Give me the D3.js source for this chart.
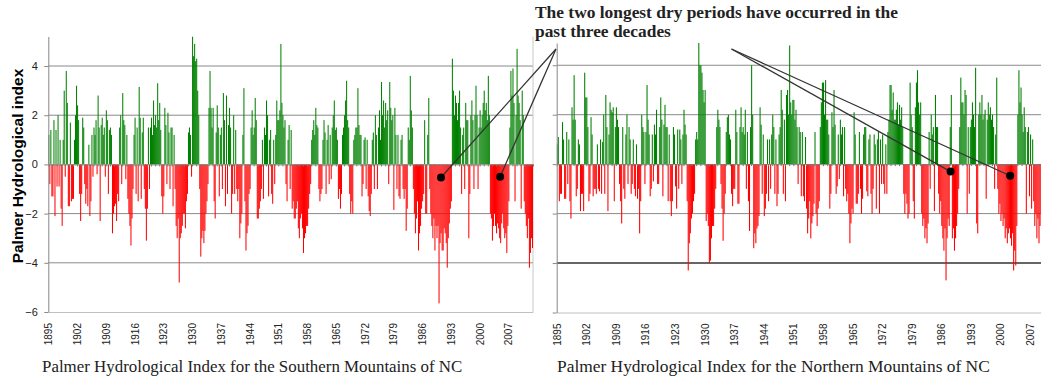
<!DOCTYPE html>
<html>
<head>
<meta charset="utf-8">
<script src="https://cdn.jsdelivr.net/npm/d3@7"></script>
<style>
  body { margin: 0; background: #fff; }
  svg { display: block; }
</style>
</head>
<body>
<svg id="chart" width="1041" height="381"></svg>
<script>
// PHDI readings, four per year starting 1895
const startYear = 1895;
const step = 0.25;

const southValues = [
  // 1895-1899
  1.2, -0.8, 1.4, -1.3,  -1.3, 1.8, -2.1, 1.4,  -0.9, 2.0, -0.9, 1.0,  -1.8, -2.5, 1.0, 3.0,  -0.5, 3.8, 2.5, -1.7,
  // 1900-1904
  -1.7, 1.7, -1.5, -1.4,  -1.4, 1.0, 2.0, 3.2,  2.4, 1.8, -1.2, -2.3,  -1.2, 1.9, 1.5, -0.8,  -1.6, -1.0, -1.7, 0.8,
  // 1905-1909
  -2.1, -1.5, 1.2, -0.5,  1.5, 1.2, 1.8, -0.4,  2.8, 1.5, -2.3, 1.6,  1.9, 1.2, 1.5, -0.5,  2.2, 1.8, -1.2, 1.4,
  // 1910-1914
  1.5, 1.2, -2.8, -2.0,  -1.7, -1.6, -2.3, -1.2,  -1.5, 1.5, 2.0, -0.8,  2.9, 1.8, 1.6, -0.6,  1.2, -1.4, -2.0, -2.5,
  // 1915-1919
  -3.3, -2.2, -1.0, 1.2,  1.9, -1.2, 1.5, -1.5,  3.15, 1.9, -1.4, 1.3,  1.9, -1.0, -1.8, -3.1,  -1.8, 1.5, -1.0, 1.5,
  // 1920-1924
  1.9, 1.2, 2.6, 1.6,  2.0, 1.5, 3.3, 1.8,  2.5, 1.4, -1.3, -2.0,  -1.3, 2.3, 1.6, -0.8,  2.1, 1.3, -1.0, 1.5,
  // 1925-1929
  1.5, -1.7, 1.2, -1.0,  -2.5, -3.0, -2.2, -4.8,  -3.0, -2.8, -2.5, -2.0,  -2.0, -2.6, -1.5, -1.2,  1.3, 1.5, 1.2, -0.5,
  // 1930-1934
  5.2, 4.4, 4.9, 4.2,  4.3, 3.0, 2.0, -1.0,  -3.75, -3.0, -2.7, -3.2,  -2.7, -2.0, -1.5, -0.8,  2.3, 3.8, 2.3, 1.5,
  // 1935-1939
  2.3, -1.5, -2.2, 1.3,  2.4, 1.5, -1.3, 1.2,  1.5, -1.0, 2.9, 1.8,  -1.7, 2.8, -1.2, 1.6,  2.3, 1.5, -2.0, -1.2,
  // 1940-1944
  2.0, -1.2, 1.4, -1.0,  -1.5, -1.0, -3.0, -2.4,  -2.0, 1.2, 3.1, -1.5,  -3.5, -2.8, -2.5, -1.2,  -1.0, 1.5, 2.2, 1.2,
  // 1945-1949
  1.5, 2.7, 1.8, -2.2,  -2.2, -1.8, -1.5, -1.0,  1.0, -1.4, 1.5, 1.2,  2.6, 2.0, -1.3, 1.0,  1.4, -1.2, -1.6, 1.0,
  // 1950-1954
  -0.8, 1.2, 2.6, 1.8,  1.8, 2.2, 4.9, 2.5,  2.0, 1.5, 1.8, -0.8,  -1.5, 1.0, 1.6, -1.0,  1.4, -1.8, -1.5, -2.2,
  // 1955-1959
  -2.2, -1.8, -1.5, -2.6,  -3.0, -2.2, -2.0, -2.6,  -3.6, -3.0, -2.8, -2.5,  -2.5, -1.8, -1.2, -0.8,  1.0, 1.4, 1.8, 1.2,
  // 1960-1964
  2.3, 1.6, 1.5, -1.0,  -1.5, -1.2, -1.0, 1.0,  1.8, 1.3, -1.2, 1.0,  1.6, -0.8, 1.2, -0.6,  1.5, 2.0, 2.6, 1.4,
  // 1965-1969
  1.5, 1.0, -1.4, -1.0,  -1.8, -1.2, 1.2, 1.5,  2.0, 2.6, 3.4, 1.8,  1.5, -1.2, -2.0, -1.5,  -2.0, 1.0, 1.2, 1.5,
  // 1970-1974
  1.5, 3.1, 1.6, 1.2,  1.2, -1.3, -0.8, 1.0,  1.1, -1.0, 1.0, -1.3,  -1.9, -2.1, -1.2, 1.0,  1.3, -1.0, 2.0, 1.2,
  // 1975-1979
  -1.0, 1.5, 2.2, 1.0,  3.35, 2.0, 2.6, 1.5,  2.5, 1.8, 2.2, -0.8,  3.35, 2.3, 1.8, 2.0,  -1.85, 2.3, 1.2, -1.0,
  // 1980-1984
  1.2, -1.3, -1.4, 1.0,  1.2, -1.0, -1.4, -1.0,  -2.7, -1.8, 1.5, 1.0,  3.6, 2.2, 1.5, -1.0,  -2.0, -2.8, -2.2, -1.5,
  // 1985-1989
  -3.5, -2.8, -2.5, -1.8,  -1.5, -1.2, 1.8, -2.0,  -2.0, 1.2, 2.7, -1.0,  -2.0, -2.5, -3.0, -2.2,  -3.5, -2.5, -3.0, -2.5,
  // 1990-1994
  -5.65, -3.2, -2.8, -3.5,  -3.5, -2.6, -2.8, -3.2,  -4.2, -3.0, -2.4, -1.8,  -1.5, 4.3, 3.0, 2.0,  2.8, 2.5, 1.8, 2.5,
  // 1995-1999
  3.0, 1.5, -1.2, 1.2,  1.5, -1.0, 2.5, 1.8,  1.8, -3.0, -1.2, 2.0,  2.6, 1.8, -1.0, 2.0,  3.2, 2.0, -1.0, 1.5,
  // 2000-2004
  2.2, 1.5, 2.0, 2.5,  3.0, 2.2, 2.5, 1.8,  3.6, 2.0, -2.0, -2.2,  -3.1, -2.5, -2.0, -2.5,  -2.8, -2.4, -2.6, -3.0,
  // 2005-2009
  -3.2, -2.4, -2.0, -2.6,  -3.0, -2.8, -3.6, -2.5,  -1.5, 1.5, 3.8, 2.8,  3.9, 2.5, -1.5, 2.0,  4.7, 2.8, 2.5, 1.8,
  // 2010-2012
  -1.8, 3.0, 2.0, -1.5,  -2.0, -2.5, -3.0, -2.2,  -4.2, -3.6, -3.0, -3.4
];

const northValues = [
  // 1895-1899
  0.8, 1.1, -1.5, -1.2,  -1.2, 1.7, 1.0, -1.4,  -1.4, 1.3, -0.8, 1.0,  -1.5, -2.2, 2.3, 1.8,  3.6, 1.8, -1.3, -1.0,
  // 1900-1904
  1.0, 0.8, -1.9, -1.2,  -1.2, -1.9, 3.7, 2.7,  2.7, 1.5, -1.5, -1.2,  1.9, 1.2, -1.3, -1.0,  -1.0, -1.2, 0.8, -1.0,
  // 1905-1909
  -1.1, 1.0, -1.2, 0.9,  2.0, -1.2, 2.8, 1.5,  -1.9, 1.2, 2.5, 2.2,  2.1, 2.3, -1.5, 1.5,  2.3, 1.8, 1.5, -0.8,
  // 1910-1914
  -1.5, -2.4, 1.5, -1.0,  -1.4, 1.2, 2.0, -0.8,  1.5, 1.0, -1.2, -0.8,  1.0, -1.0, -1.3, 0.8,  -1.4, -1.0, -2.8, -1.5,
  // 1915-1919
  2.0, 1.5, 1.3, -0.8,  1.3, 3.2, 1.8, 1.2,  -1.3, -1.0, 1.2, -0.7,  1.6, 1.2, 2.2, -0.8,  -0.8, 1.5, 2.7, 1.8,
  // 1920-1924
  -1.3, 1.6, 2.4, 1.5,  1.5, -1.5, 1.2, -1.5,  -2.1, -1.5, 1.5, 1.2,  -0.9, -1.8, 1.4, -1.0,  1.4, 1.0, -0.8, 1.2,
  // 1925-1929
  2.2, 1.6, 1.2, -1.5,  -4.3, -3.2, -2.8, -2.2,  -2.0, -1.5, -1.2, 1.0,  1.3, 1.0, 4.9, 4.0,  4.0, 3.7, 3.0, 2.5,
  // 1930-1934
  3.0, -2.3, -2.0, -2.5,  -4.0, -3.9, -3.0, -2.5,  -2.5, -1.8, -1.0, 1.5,  2.2, 1.8, 1.5, -0.8,  -1.8, -3.1, -2.0, -1.2,
  // 1935-1939
  1.3, 1.9, 2.0, 1.2,  1.0, -1.2, -1.7, -1.0,  -1.0, 2.2, 1.3, -1.6,  -1.6, 1.5, 2.3, 1.3,  1.5, 1.2, 2.2, -1.0,
  // 1940-1944
  1.3, -1.5, -2.7, 1.5,  4.0, 2.0, -3.4, -2.8,  -3.2, -2.6, -2.5, -2.1,  2.3, 1.6, -1.2, 1.2,  -2.1, -1.8, -1.2, 1.0,
  // 1945-1949
  -1.5, 1.0, -1.0, 1.2,  2.0, 1.5, -1.2, 1.0,  -1.7, -1.2, 1.2, 1.5,  3.0, 2.2, -1.2, 1.8,  -1.5, 2.8, 3.0, 2.0,
  // 1950-1954
  4.8, 2.5, 2.0, 2.6,  2.6, 1.8, 2.2, 1.5,  -0.8, 1.5, 1.3, -1.3,  1.3, -1.3, -1.5, 1.1,  -1.8, -2.8, -2.2, -1.5,
  // 1955-1959
  -3.0, -2.4, -2.1, -1.6,  1.3, -2.0, -2.5, -1.8,  -1.5, 1.5, 2.5, 3.3,  3.3, 2.0, 3.4, 1.8,  1.8, 1.2, -1.8, -1.2,
  // 1960-1964
  2.1, 1.5, 3.0, 1.6,  -1.2, -0.9, 1.2, -0.6,  1.8, 1.2, 1.5, -1.3,  1.5, -1.0, -1.5, -1.2,  -2.0, -3.2, -2.4, -1.8,
  // 1965-1969
  -2.0, 2.1, 1.2, -1.6,  -1.6, -1.2, 1.3, -1.0,  -2.0, -1.4, 1.2, 1.5,  1.5, -1.1, -1.3, 1.0,  1.2, -1.2, -2.0, -1.0,
  // 1970-1974
  1.2, 0.8, -1.8, 1.0,  1.3, -2.0, 1.0, -0.8,  1.2, -0.8, -1.2, 0.8,  -1.2, 1.3, 1.8, 3.2,  3.2, 2.2, 2.9, 1.8,
  // 1975-1979
  1.8, 2.2, 2.5, 1.6,  2.4, 1.8, 2.3, 1.5,  -1.2, -2.0, -1.2, -1.6,  -2.2, -2.0, 3.3, 2.0,  1.5, -1.5, -2.2, 2.3,
  // 1980-1984
  3.3, 3.8, 2.5, 2.0,  2.5, -2.0, -2.5, -2.2,  -3.0, -2.6, -3.2, -2.4,  1.3, -1.0, 2.0, 1.2,  1.5, -1.9, 2.8, 1.5,
  // 1985-1989
  1.5, -1.2, -2.0, -1.5,  -2.5, -3.0, -3.5, -2.6,  -4.7, -3.0, -2.2, -2.5,  1.5, 2.8, -3.0, -2.6,  -3.5, -3.0, -2.5, -2.0,
  // 1990-1994
  -1.0, 1.5, 3.5, 2.5,  2.5, 2.0, 3.0, 2.8,  -2.0, 1.5, -1.2, 1.5,  1.8, 2.5, 2.0, 1.5,  3.9, -2.4, -2.8, 2.0,
  // 1995-1999
  2.5, 2.0, 2.8, 1.8,  2.0, 2.2, -1.4, 1.8,  2.5, 2.0, 2.3, 1.8,  2.0, 1.5, -1.0, 1.2,  3.5, -1.0, -2.0, -1.6,
  // 2000-2004
  -2.3, -2.0, -2.5, -2.2,  -3.0, -2.6, -3.2, -2.8,  -2.6, -3.0, -3.3, -2.8,  -4.3, -3.5, -4.1, -2.5,  2.0, 3.8, 2.5, 3.1,
  // 2005-2009
  2.0, 1.3, 2.3, 1.5,  -2.0, 1.3, 1.5, -1.3,  1.2, -1.8, 1.0, -1.5,  -2.5, -2.0, -3.0, -2.2,  -3.2, -2.5, -2.0, -3.0
];

const tickYears = d3.range(1895, 2008, 7);
const yTicks = [-6, -4, -2, 0, 2, 4];
const gridValues = [-4, -2, 2, 4];

// dry period markers: [year, value]
const southDry = [[1990.6, -0.53], [2005.0, -0.5]];
const northDry = [[1988.2, -0.3], [2002.3, -0.47]];

const titleLines = ["The two longest dry periods have occurred in the", "past three decades"];
const yTitle = "Palmer Hydrological index";

const green = "#008000";
const red = "#ff0000";
const sans = "'Liberation Sans', Arial, sans-serif";
const serif = "'Liberation Serif', 'Times New Roman', serif";

const svg = d3.select("#chart");

const panels = [
  { id: "s", values: southValues, endYear: 2013, left: 48.3, right: 533, top: 36.5, yMax: 5.2,
    bottom: 312, yLabels: true, darkGrid: null, dry: southDry, from: [556, 49],
    caption: "Palmer Hydrological Index for the Southern Mountains of NC", capX: 42, capSize: 16.9 },
  { id: "n", values: northValues, endYear: 2010, left: 556.7, right: 1042.7, top: 43, yMax: 4.9,
    bottom: 312.5, yLabels: false, darkGrid: -4, dry: northDry, from: [731.5, 49],
    caption: "Palmer Hydrological Index for the Northern Mountains of NC", capX: 557, capSize: 17.4 }
];

panels.forEach(p => {
  const x = d3.scaleLinear().domain([startYear, p.endYear]).range([p.left, p.right]);
  const y = d3.scaleLinear().domain([-6, p.yMax]).range([p.bottom, p.top]);
  const g = svg.append("g");

  svg.append("clipPath").attr("id", "clip-" + p.id)
    .append("rect")
    .attr("x", p.left).attr("y", p.top)
    .attr("width", p.right - p.left).attr("height", p.bottom - p.top);

  // gridlines
  g.selectAll(".grid").data(gridValues).join("line")
    .attr("x1", p.left).attr("x2", p.right)
    .attr("y1", d => y(d)).attr("y2", d => y(d))
    .attr("stroke", d => d === p.darkGrid ? "#333" : "#8a8a8a")
    .attr("stroke-width", d => d === p.darkGrid ? 1.4 : 1);

  // right border of plot area
  g.append("line")
    .attr("x1", p.right).attr("x2", p.right)
    .attr("y1", p.top).attr("y2", p.bottom)
    .attr("stroke", "#c8c8c8");

  // bars
  const bw = x(startYear + step) - x(startYear);
  g.append("g").attr("clip-path", `url(#clip-${p.id})`)
    .selectAll("rect").data(p.values).join("rect")
    .attr("x", (d, i) => x(startYear + i * step))
    .attr("width", bw)
    .attr("y", d => y(Math.max(0, d)))
    .attr("height", d => Math.abs(y(d) - y(0)))
    .attr("fill", d => d >= 0 ? green : red);

  // zero axis with yearly ticks
  const zero = g.append("g")
    .attr("transform", `translate(0,${y(0)})`)
    .attr("color", "#777")
    .call(d3.axisBottom(x).tickValues(d3.range(1895, p.endYear + 1)).tickSize(2).tickSizeOuter(0).tickFormat(""));
  zero.select(".domain").attr("stroke-width", 0.8);

  // bottom axis with rotated year labels
  const bx = g.append("g")
    .attr("transform", `translate(0,${p.bottom})`)
    .attr("color", "#c0c0c0")
    .call(d3.axisBottom(x).tickValues(tickYears).tickSize(0).tickSizeOuter(0).tickFormat(d3.format("d")));
  bx.selectAll("text")
    .attr("transform", "rotate(-90)")
    .attr("x", -11).attr("y", 0).attr("dy", "0.35em")
    .attr("text-anchor", "end")
    .attr("fill", "#222")
    .style("font-family", sans).style("font-size", "10px");

  // left axis
  const ly = g.append("g")
    .attr("transform", `translate(${p.left},0)`)
    .attr("color", "#888")
    .call(d3.axisLeft(y).tickValues(yTicks).tickSize(4).tickSizeOuter(0).tickFormat(p.yLabels ? d3.format("d") : ""));
  ly.selectAll("text")
    .attr("x", -10.5)
    .attr("fill", "#222")
    .style("font-family", sans).style("font-size", "11px");

  // caption
  svg.append("text")
    .attr("x", p.capX).attr("y", 372)
    .style("font-family", serif).style("font-size", p.capSize + "px")
    .attr("fill", "#222")
    .text(p.caption);

  // annotation lines and dots
  g.selectAll(".call").data(p.dry).join("line")
    .attr("x1", p.from[0]).attr("y1", p.from[1])
    .attr("x2", d => x(d[0])).attr("y2", d => y(d[1]))
    .attr("stroke", "#333").attr("stroke-width", 1.3);
  g.selectAll(".dot").data(p.dry).join("circle")
    .attr("cx", d => x(d[0])).attr("cy", d => y(d[1]))
    .attr("r", 4).attr("fill", "#000");
});

// y-axis title
svg.append("text")
  .attr("transform", "translate(22.5,166) rotate(-90)")
  .attr("text-anchor", "middle")
  .style("font-family", sans).style("font-size", "15.5px").style("font-weight", "bold")
  .text(yTitle);

// annotation title
svg.append("g").selectAll("text").data(titleLines).join("text")
  .attr("x", 535).attr("y", (d, i) => 18.3 + i * 19)
  .style("font-family", serif).style("font-size", "17.4px").style("font-weight", "bold")
  .attr("fill", "#222")
  .text(d => d);
</script>
</body>
</html>
